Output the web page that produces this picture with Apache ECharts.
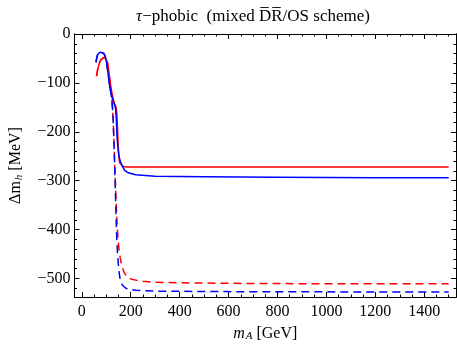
<!DOCTYPE html>
<html>
<head>
<meta charset="utf-8">
<script src="https://cdn.jsdelivr.net/npm/echarts@6/dist/echarts.min.js"></script>
<style>html,body{margin:0;padding:0;background:#fff}#c{width:457px;height:347px}</style>
</head>
<body>
<div id="c"></div>
<script>
// x ticks / y ticks
const xTickLabels = [0, 200, 400, 600, 800, 1000, 1200, 1400];
const yTickLabels = [0, -100, -200, -300, -400, -500];

// red solid
const redSolidX = [60, 65, 70, 75, 80, 85, 90, 95, 100, 105, 110, 115, 120, 125, 130, 135, 140, 143, 146, 149, 152, 155, 160, 170, 185, 200, 300, 500, 800, 1000, 1200, 1500];
const redSolidY = [-86, -72, -62, -55, -51, -49, -48, -48, -50, -58, -75, -95, -112, -126, -136, -144, -150, -162, -192, -232, -255, -264, -268, -271, -272, -272, -272, -272, -272, -272, -272, -272];
// blue solid
const blueSolidX = [58, 62, 66, 70, 75, 82, 90, 95, 100, 105, 110, 115, 120, 125, 130, 135, 138, 141, 144, 148, 152, 157, 165, 175, 190, 220, 300, 500, 800, 1000, 1200, 1500];
const blueSolidY = [-58, -46, -41, -38, -37, -37, -40, -45, -55, -72, -92, -110, -122, -132, -140, -147, -152, -175, -210, -235, -250, -260, -270, -279, -284, -288, -291, -292, -293, -293.5, -294, -294];
// red dashed
const redDashX = [60, 65, 70, 75, 80, 85, 90, 95, 100, 105, 110, 115, 120, 125, 128, 131, 134, 137, 140, 143, 146, 150, 153, 157, 160, 166, 175, 187, 200, 225, 250, 300, 400, 600, 1000, 1500];
const redDashY = [-86, -72, -62, -55, -51, -49, -48, -48, -51, -60, -78, -98, -120, -150, -175, -215, -260, -300, -340, -375, -405, -430, -445, -458, -466, -478, -490, -497, -501, -504, -506, -508, -509, -510, -511, -511];
// blue dashed
const blueDashX = [58, 62, 66, 70, 75, 82, 90, 95, 100, 105, 110, 115, 120, 125, 128, 131, 134, 137, 140, 143, 146, 150, 153, 157, 160, 166, 173, 180, 190, 205, 220, 260, 300, 600, 1000, 1500];
const blueDashY = [-58, -46, -41, -38, -37, -37, -40, -45, -55, -72, -92, -110, -124, -148, -175, -215, -265, -320, -375, -420, -450, -476, -490, -503, -508, -514, -518, -520, -522, -523, -524, -525, -526, -527, -527.5, -528];

const zip = (xs, ys) => xs.map((x, i) => [x, ys[i]]);
const range = (a, b, s) => { const r = []; for (let v = a; s > 0 ? v <= b : v >= b; v += s) r.push(v); return r; };
const xMinor = range(0, 1500, 50);
const yMinor = range(0, -520, -20);

const FONT = 'Liberation Serif';
const fmtY = v => v < 0 ? '\u2212' + (-v) : String(v);
const fmtX = v => String(v);

function xAx(pos, major, withLabels, withName) {
  const ax = {
    type: 'value', position: pos, min: -30, max: 1530,
    axisLine: { show: true, onZero: false, lineStyle: { color: '#000', width: 1 } },
    splitLine: { show: false },
    axisTick: { show: true, inside: true, length: major ? 5 : 2.5, customValues: major ? xTickLabels : xMinor, lineStyle: { color: '#000', width: 1 } },
    axisLabel: { show: withLabels, customValues: xTickLabels, formatter: fmtX, margin: 7, fontFamily: FONT, fontSize: 16, color: '#000' }
  };
  if (withName) {
    ax.name = '{i|m}{s|A} [GeV]';
    ax.nameLocation = 'middle';
    ax.nameGap = 28;
    ax.nameTextStyle = { fontFamily: FONT, fontSize: 16, color: '#000',
      rich: { i: { fontFamily: FONT, fontStyle: 'italic', fontSize: 16, color: '#000' },
              s: { fontFamily: FONT, fontStyle: 'italic', fontSize: 11, color: '#000', verticalAlign: 'bottom', padding: [6, 0, 0, 1] } } };
  }
  return ax;
}
function yAx(pos, major, withLabels, withName) {
  const ax = {
    type: 'value', position: pos, min: -538, max: 0,
    axisLine: { show: true, onZero: false, lineStyle: { color: '#000', width: 1 } },
    splitLine: { show: false },
    axisTick: { show: true, inside: true, length: major ? 5 : 2.5, customValues: major ? yTickLabels : yMinor, lineStyle: { color: '#000', width: 1 } },
    axisLabel: { show: withLabels, customValues: yTickLabels, margin: 4, formatter: fmtY, fontFamily: FONT, fontSize: 16, color: '#000' }
  };
  if (withName) {
    ax.name = '\u0394m{s|h} [MeV]';
    ax.nameLocation = 'middle';
    ax.nameGap = 50;
    ax.nameTextStyle = { fontFamily: FONT, fontSize: 16, color: '#000',
      rich: { s: { fontFamily: FONT, fontStyle: 'italic', fontSize: 11, color: '#000', padding: [6, 0, 0, 1] } } };
  }
  return ax;
}

const chart = echarts.init(document.getElementById('c'), null, { renderer: 'canvas' });
const line = (data, color, dashed, z) => ({
  type: 'line', data, xAxisIndex: 0, yAxisIndex: 0, showSymbol: false, symbol: 'none', z,
  lineStyle: { color, width: 1.5, type: dashed ? [8, 5] : 'solid' }, animation: false
});
chart.setOption({
  animation: false,
  title: {
    text: '{t|\u03c4}\u2212phobic  (mixed D\u0305R\u0305/OS scheme)',
    left: 248, top: 3, textAlign: 'center',
    textStyle: { fontFamily: FONT, fontSize: 17, fontWeight: 'normal', color: '#000',
      rich: { t: { fontFamily: FONT, fontStyle: 'italic', fontSize: 17, color: '#000' } } }
  },
  grid: { left: 72, right: 1, top: 34, bottom: 47, containLabel: false },
  xAxis: [xAx('bottom', true, true, true), xAx('bottom', false, false, false), xAx('top', true, false, false), xAx('top', false, false, false)],
  yAxis: [yAx('left', true, true, true), yAx('left', false, false, false), yAx('right', true, false, false), yAx('right', false, false, false)],
  series: [
    line(zip(redDashX, redDashY), '#ff0000', true, 2),
    line(zip(blueDashX, blueDashY), '#0000ff', true, 3),
    line(zip(redSolidX, redSolidY), '#ff0000', false, 4),
    line(zip(blueSolidX, blueSolidY), '#0000ff', false, 5)
  ]
});
</script>
</body>
</html>
